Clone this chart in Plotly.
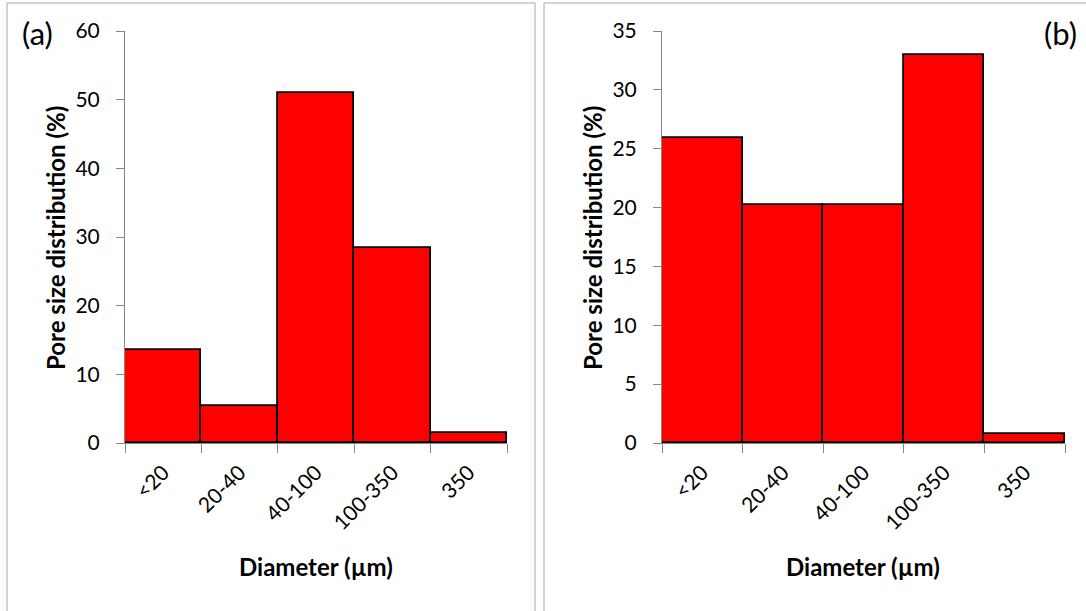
import plotly.graph_objects as go

# Pore diameter classes (µm) and the share of pores in each class (%)
categories = ["<20", "20-40", "40-100", "100-350", "350"]
pore_share_a = [13.6, 5.4, 51.0, 28.4, 1.5]
pore_share_b = [25.9, 20.2, 20.2, 33.0, 0.75]

W, H = 1086, 611
FONT = "Lato"
AXIS_GREY = "#868686"


def px_x(x):
    return x / W


def px_y(y):
    return 1 - y / H


fig = go.Figure()

bar_style = dict(marker=dict(color="#FF0000", line=dict(color="black", width=1.8)),
                 showlegend=False, hoverinfo="x+y")
fig.add_trace(go.Bar(x=categories, y=pore_share_a, xaxis="x", yaxis="y", **bar_style))
fig.add_trace(go.Bar(x=categories, y=pore_share_b, xaxis="x2", yaxis="y2", **bar_style))

xaxis_common = dict(
    type="category", range=[-0.5, 4.5], tickson="boundaries",
    ticks="outside", ticklen=9, tickcolor=AXIS_GREY, tickwidth=1,
    showline=True, linecolor=AXIS_GREY, linewidth=1,
    showgrid=False, zeroline=False, tickangle=-45, automargin=False,
    ticklabelstandoff=8,
    tickfont=dict(family=FONT, size=21, color="black"),
)
yaxis_common = dict(
    ticks="outside", ticklen=8, tickcolor=AXIS_GREY, tickwidth=1,
    showline=True, linecolor=AXIS_GREY, linewidth=1,
    showgrid=False, zeroline=False, automargin=False,
    ticklabelstandoff=12,
    tickfont=dict(family=FONT, size=21, color="black"),
    domain=[px_y(443), px_y(31)],
)

fig.update_layout(
    width=W, height=H,
    margin=dict(l=0, r=0, t=0, b=0, autoexpand=False),
    paper_bgcolor="white", plot_bgcolor="white",
    bargap=0,
    xaxis=dict(domain=[px_x(125), px_x(507)], anchor="y", **xaxis_common),
    yaxis=dict(anchor="x", range=[0, 60], dtick=10, **yaxis_common),
    xaxis2=dict(domain=[px_x(662), px_x(1065)], anchor="y2", **xaxis_common),
    yaxis2=dict(anchor="x2", range=[0, 35], dtick=5, **yaxis_common),
)

# Panel frames
for x0, x1 in [(7, 535), (544, 1092)]:
    fig.add_shape(type="rect", xref="paper", yref="paper",
                  x0=px_x(x0), x1=px_x(x1), y0=-0.05, y1=px_y(3),
                  line=dict(color="#A6A6A6", width=1), fillcolor="rgba(0,0,0,0)",
                  layer="below")

title_font = dict(family=FONT, size=24, color="black")
for cx, cy_title in [(316, 55), (863, 592)]:
    # x-axis title
    fig.add_annotation(text="<b>Diameter (µm)</b>", xref="paper", yref="paper",
                       x=px_x(cx), y=px_y(566), xanchor="center", yanchor="middle",
                       showarrow=False, font=title_font)
    # y-axis title
    fig.add_annotation(text="<b>Pore size distribution (%)</b>", xref="paper", yref="paper",
                       x=px_x(cy_title), y=px_y(238), xanchor="center", yanchor="middle",
                       textangle=-90, showarrow=False, font=title_font)

panel_font = dict(family=FONT, size=31, color="black")
fig.add_annotation(text="(a)", xref="paper", yref="paper", x=px_x(37), y=px_y(33),
                   xanchor="center", yanchor="middle", showarrow=False, font=panel_font)
fig.add_annotation(text="(b)", xref="paper", yref="paper", x=px_x(1060), y=px_y(33),
                   xanchor="center", yanchor="middle", showarrow=False, font=panel_font)

fig.write_html("out.html")
